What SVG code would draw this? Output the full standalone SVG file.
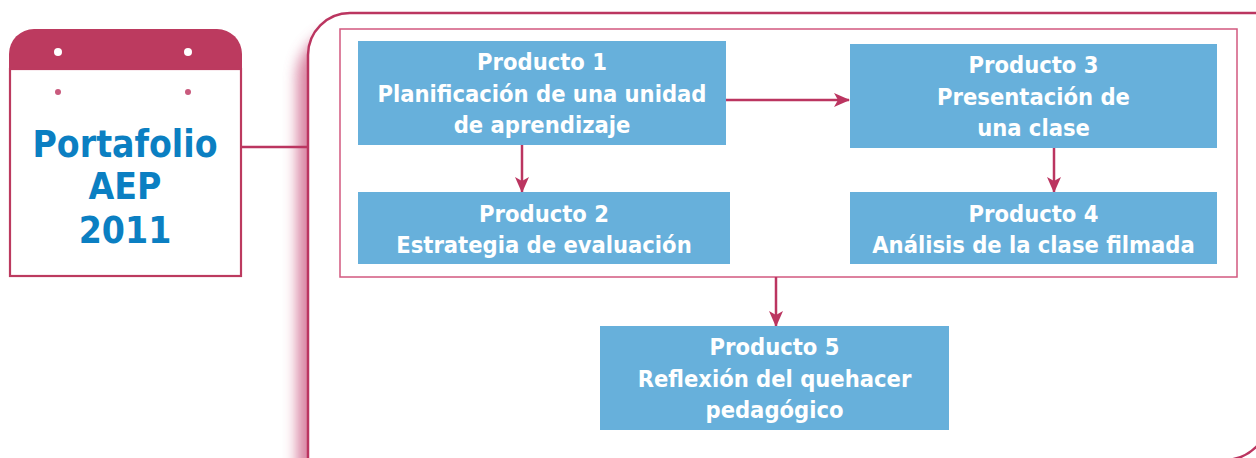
<svg xmlns="http://www.w3.org/2000/svg" width="1256" height="458" viewBox="0 0 1256 458">
<style>
.box{fill:#67b0db}
.bt{font-family:"DejaVu Sans Condensed","DejaVu Sans",sans-serif;font-stretch:condensed;font-weight:bold;font-size:23.5px;fill:#ffffff;text-anchor:middle}
.tt{font-family:"DejaVu Sans Condensed","DejaVu Sans",sans-serif;font-stretch:condensed;font-weight:bold;font-size:37px;fill:#0b7fc2;text-anchor:middle}
.con{stroke:#bb3560;stroke-width:2.5;fill:none}
</style>
<defs>
<marker id="ah" viewBox="0 0 16 14" refX="15" refY="7" markerWidth="16" markerHeight="14" markerUnits="userSpaceOnUse" orient="auto">
<path d="M0,0 L16,7 L0,14 L4,7 Z" fill="#bb3560"/>
</marker>
<filter id="sh" x="-20%" y="-20%" width="140%" height="140%">
<feGaussianBlur stdDeviation="7"/>
</filter>
</defs>
<rect width="1256" height="458" fill="#ffffff"/>
<g id="frame">
<path d="M297,480 V78 A50,50 0 0 1 347,28 H1300 V480 Z" fill="#cc5a82" opacity="0.75" filter="url(#sh)"/>
<path d="M308,470 V55 A42,42 0 0 1 350,13 H1300 V470 Z" fill="#ffffff"/>
<path d="M308,470 V55 A42,42 0 0 1 350,13 H1300" class="con"/>
<path d="M1180,460 H1224 A46,46 0 0 0 1270,414" class="con"/>
</g>
<g id="calendar">
<path d="M9,70 V54 A25,25 0 0 1 34,29 H217 A25,25 0 0 1 242,54 V70 Z" fill="#bc3a5f"/>
<rect x="10" y="69" width="231" height="207" fill="#ffffff" stroke="#bc3a5f" stroke-width="2.2"/>
<circle cx="58" cy="52" r="4" fill="#ffffff"/>
<circle cx="188" cy="52" r="4" fill="#ffffff"/>
<circle cx="58" cy="92" r="3" fill="#c95a7d"/>
<circle cx="188" cy="92" r="3" fill="#c95a7d"/>
<text class="tt" x="125" y="157">Portafolio</text>
<text class="tt" x="125" y="199">AEP</text>
<text class="tt" x="125" y="243">2011</text>
</g>
<g id="group">
<rect x="340" y="29" width="897" height="248" fill="none" stroke="#d2587f" stroke-width="1.5"/>
</g>
<g id="connectors">
<line x1="242" y1="147" x2="308" y2="147" class="con"/>
<line x1="726" y1="100" x2="849" y2="100" class="con" marker-end="url(#ah)"/>
<line x1="522" y1="145" x2="522" y2="192" class="con" marker-end="url(#ah)"/>
<line x1="1054" y1="148" x2="1054" y2="192" class="con" marker-end="url(#ah)"/>
<line x1="776" y1="277" x2="776" y2="326" class="con" marker-end="url(#ah)"/>
</g>
<g id="p1">
<rect class="box" x="358" y="41" width="368" height="104"/>
<text class="bt" x="542" y="70">Producto 1</text>
<text class="bt" x="542" y="102">Planificación de una unidad</text>
<text class="bt" x="542" y="133">de aprendizaje</text>
</g>
<g id="p2">
<rect class="box" x="358" y="192" width="372" height="72"/>
<text class="bt" x="544" y="222">Producto 2</text>
<text class="bt" x="544" y="253">Estrategia de evaluación</text>
</g>
<g id="p3">
<rect class="box" x="850" y="44" width="367" height="104"/>
<text class="bt" x="1033.5" y="73">Producto 3</text>
<text class="bt" x="1033.5" y="105">Presentación de</text>
<text class="bt" x="1033.5" y="136">una clase</text>
</g>
<g id="p4">
<rect class="box" x="850" y="192" width="367" height="72"/>
<text class="bt" x="1033.5" y="222">Producto 4</text>
<text class="bt" x="1033.5" y="253">Análisis de la clase filmada</text>
</g>
<g id="p5">
<rect class="box" x="600" y="326" width="349" height="104"/>
<text class="bt" x="774.5" y="355">Producto 5</text>
<text class="bt" x="774.5" y="387">Reflexión del quehacer</text>
<text class="bt" x="774.5" y="418">pedagógico</text>
</g>
</svg>
